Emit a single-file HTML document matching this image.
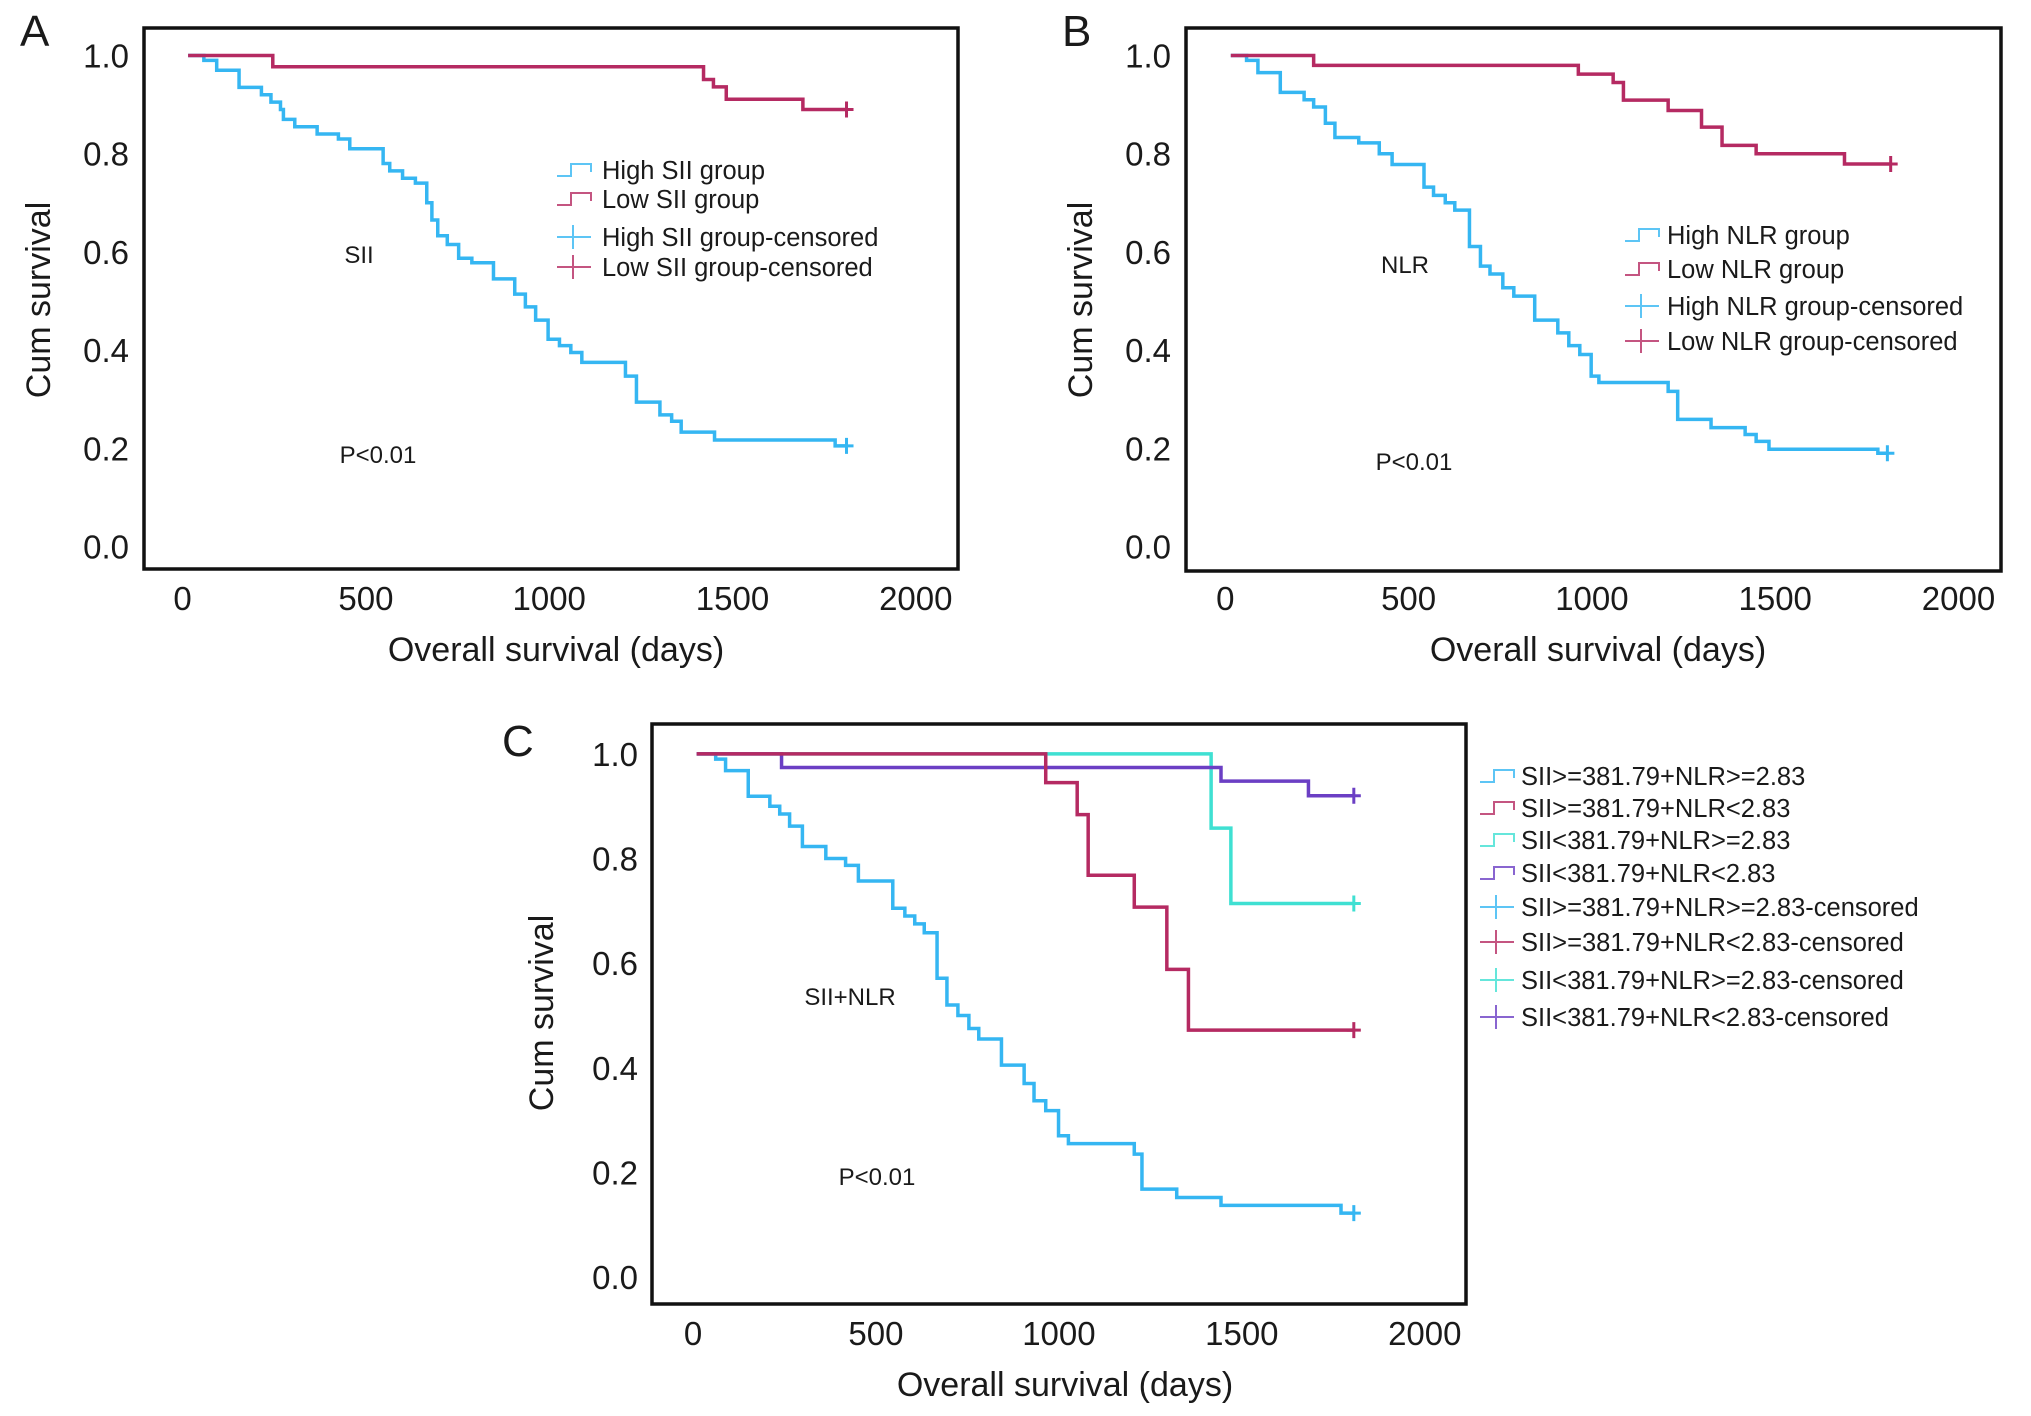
<!DOCTYPE html>
<html><head><meta charset="utf-8"><style>
html,body{margin:0;padding:0;background:#fff}
svg{display:block}
text{font-family:"Liberation Sans",Arial,sans-serif;fill:#1a1a1a}
</style></head><body>
<svg id="fig" width="2031" height="1416" viewBox="0 0 2031 1416" xmlns="http://www.w3.org/2000/svg"></svg>
<script>
// ---- Data (days, cumulative survival) ----
const xTicks = [0, 500, 1000, 1500, 2000];
const yTicks = [0.0, 0.2, 0.4, 0.6, 0.8, 1.0];

const aHighDays = [15, 58, 93, 154, 215, 241, 267, 275, 306, 367, 425, 456, 547, 565, 600, 635, 666, 680, 696, 722, 753, 789, 848, 906, 935, 963, 997, 1028, 1059, 1089, 1208, 1238, 1302, 1334, 1360, 1451, 1780];
const aHighSurv = [1.0, 0.99, 0.97, 0.935, 0.92, 0.905, 0.89, 0.87, 0.855, 0.84, 0.83, 0.81, 0.78, 0.765, 0.75, 0.74, 0.70, 0.665, 0.633, 0.615, 0.587, 0.578, 0.545, 0.514, 0.488, 0.461, 0.422, 0.409, 0.395, 0.375, 0.347, 0.294, 0.268, 0.255, 0.233, 0.217, 0.205];
const aHighCens = 1811;
const aLowDays = [15, 246, 1421, 1448, 1483, 1692];
const aLowSurv = [1.0, 0.977, 0.951, 0.936, 0.911, 0.89];
const aLowCens = 1811;

const bHighDays = [15, 58, 89, 150, 215, 241, 273, 299, 364, 420, 455, 542, 568, 600, 626, 666, 696, 722, 757, 787, 844, 907, 937, 967, 998, 1019, 1208, 1234, 1325, 1418, 1448, 1483, 1780];
const bHighSurv = [1.0, 0.99, 0.965, 0.925, 0.91, 0.895, 0.862, 0.833, 0.822, 0.80, 0.778, 0.732, 0.715, 0.70, 0.685, 0.611, 0.571, 0.555, 0.527, 0.51, 0.461, 0.435, 0.409, 0.391, 0.347, 0.334, 0.316, 0.259, 0.242, 0.228, 0.214, 0.198, 0.19];
const bHighCens = 1806;
const bLowDays = [15, 241, 963, 1058, 1086, 1208, 1299, 1355, 1448, 1689];
const bLowSurv = [1.0, 0.98, 0.962, 0.945, 0.909, 0.888, 0.854, 0.817, 0.80, 0.779];
const bLowCens = 1815;

const cHHDays = [10, 62, 89, 151, 210, 237, 264, 299, 363, 417, 452, 546, 579, 606, 632, 667, 694, 724, 754, 781, 843, 905, 932, 964, 999, 1026, 1206, 1227, 1322, 1443, 1771];
const cHHSurv = [1.0, 0.99, 0.968, 0.919, 0.90, 0.885, 0.862, 0.823, 0.80, 0.787, 0.757, 0.705, 0.69, 0.675, 0.658, 0.571, 0.52, 0.50, 0.475, 0.455, 0.405, 0.37, 0.337, 0.318, 0.27, 0.255, 0.235, 0.168, 0.152, 0.137, 0.122];
const cHHCens = 1806;
const cHLDays = [10, 964, 1050, 1080, 1206, 1295, 1354];
const cHLSurv = [1.0, 0.945, 0.884, 0.768, 0.707, 0.588, 0.472];
const cHLCens = 1806;
const cLHDays = [10, 1416, 1470];
const cLHSurv = [1.0, 0.858, 0.714];
const cLHCens = 1806;
const cLLDays = [10, 242, 1443, 1682];
const cLLSurv = [1.0, 0.974, 0.948, 0.92];
const cLLCens = 1806;

const BLUE = "#35b6f2", RED = "#b52a62", TURQ = "#3fe0d2", PURP = "#6b3fc4";
const NS = "http://www.w3.org/2000/svg";
const svg = document.getElementById("fig");

function mk(tag, attrs, parent, txt) {
  const e = document.createElementNS(NS, tag);
  for (const k in attrs) e.setAttribute(k, attrs[k]);
  if (txt !== undefined) e.textContent = txt;
  (parent || svg).appendChild(e);
  return e;
}

function panel(cfg) {
  const g = mk("g", {});
  
  
  const X = d => cfg.x0 + (d / 2000) * (cfg.x2000 - cfg.x0);
  const Y = s => cfg.y0 - s * (cfg.y0 - cfg.y1);
  const fr = mk("rect", {x: cfg.bx, y: cfg.by, width: cfg.bw, height: cfg.bh, fill: "none", stroke: "#111", "stroke-width": 3.5}, g);
  
  
  const L = mk("text", {x: cfg.lx, y: cfg.ly, "font-size": 44}, g, cfg.letter);
  
  
  xTicks.forEach(t => {
    const e = mk("text", {x: X(t), y: cfg.xtY, "font-size": 33, "text-anchor": "middle"}, g, String(t));
    
    
  });
  yTicks.forEach(t => {
    const e = mk("text", {x: cfg.ytX, y: Y(t) + 12, "font-size": 33, "text-anchor": "end"}, g, t.toFixed(1));
    
    
  });
  const xt = mk("text", {x: cfg.xtitle[0], y: cfg.xtitle[1], "font-size": 34, "text-anchor": "middle"}, g, "Overall survival (days)");
  
  
  const yt = mk("text", {x: 0, y: 0, "font-size": 34, "text-anchor": "middle", transform: `translate(${cfg.ytitle[0]},${cfg.ytitle[1]}) rotate(-90)`}, g, "Cum survival");
  
  
  cfg.notes.forEach(n => {
    const e = mk("text", {x: n[0], y: n[1], "font-size": 24, "text-anchor": "middle"}, g, n[2]);
    
    
  });
  cfg.series.forEach(s => {
    let d = `M${X(s.days[0])},${Y(s.surv[0])}`;
    for (let i = 1; i < s.days.length; i++) {
      d += ` H${X(s.days[i])} V${Y(s.surv[i])}`;
    }
    const last = s.surv[s.surv.length - 1];
    d += ` H${X(s.cens)}`;
    const p = mk("path", {d: d, fill: "none", stroke: s.color, "stroke-width": 3.5}, g);
    
    
    const cx = X(s.cens), cy = Y(last);
    const c = mk("path", {d: `M${cx - 7},${cy} H${cx + 7} M${cx},${cy - 8} V${cy + 8}`, stroke: s.color, "stroke-width": 3, fill: "none"}, g);
    
    
  });
  cfg.legend.forEach((it, i) => {
    const y = cfg.legY[i];
    const lg = mk("g", {}, g);
    
    
    const ix = cfg.legIx;
    if (it[2] === "step") {
      mk("path", {d: `M${ix},${y + 6} H${ix + 14} V${y - 6} H${ix + 34} V${y + 2}`, fill: "none", stroke: it[1], "stroke-width": 2, opacity: 0.8}, lg);
    } else {
      mk("path", {d: `M${ix},${y} H${ix + 34} M${ix + 16},${y - 12} V${y + 12}`, fill: "none", stroke: it[1], "stroke-width": 2, opacity: 0.8}, lg);
    }
    mk("text", {x: cfg.legTx, y: y + 9, "font-size": cfg.legFs}, lg, it[0]);
  });
}

panel({
  id: "sii", letter: "A", lx: 20, ly: 46,
  bx: 144, by: 28, bw: 814, bh: 541,
  x0: 182.6, x2000: 915.8, y1: 55.5, y0: 546.5,
  xtY: 610, ytX: 129, xtitle: [556, 661], ytitle: [50, 300],
  notes: [[359, 263, "SII", "group-label"], [378, 463, "P<0.01", "p-value-label"]],
  series: [
    {name: "high-sii", days: aHighDays, surv: aHighSurv, cens: aHighCens, color: BLUE},
    {name: "low-sii", days: aLowDays, surv: aLowSurv, cens: aLowCens, color: RED}
  ],
  legIx: 557, legTx: 602, legFs: 25.5, legY: [170, 199, 237, 267],
  legend: [["High SII group", BLUE, "step"], ["Low SII group", RED, "step"], ["High SII group-censored", BLUE, "cens"], ["Low SII group-censored", RED, "cens"]]
});

panel({
  id: "nlr", letter: "B", lx: 1062, ly: 46,
  bx: 1186, by: 28, bw: 815, bh: 543,
  x0: 1225.3, x2000: 1958.5, y1: 55.5, y0: 546.5,
  xtY: 610, ytX: 1171, xtitle: [1598, 661], ytitle: [1092, 300],
  notes: [[1405, 273, "NLR", "group-label"], [1414, 470, "P<0.01", "p-value-label"]],
  series: [
    {name: "high-nlr", days: bHighDays, surv: bHighSurv, cens: bHighCens, color: BLUE},
    {name: "low-nlr", days: bLowDays, surv: bLowSurv, cens: bLowCens, color: RED}
  ],
  legIx: 1625, legTx: 1667, legFs: 25.5, legY: [235, 269, 306, 341],
  legend: [["High NLR group", BLUE, "step"], ["Low NLR group", RED, "step"], ["High NLR group-censored", BLUE, "cens"], ["Low NLR group-censored", RED, "cens"]]
});

panel({
  id: "sii-nlr", letter: "C", lx: 502, ly: 756,
  bx: 652, by: 724, bw: 814, bh: 580,
  x0: 693, x2000: 1424.8, y1: 753.9, y0: 1277,
  xtY: 1345, ytX: 638, xtitle: [1065, 1396], ytitle: [553, 1013],
  notes: [[850, 1005, "SII+NLR", "group-label"], [877, 1185, "P<0.01", "p-value-label"]],
  series: [
    {name: "sii-high-nlr-high", days: cHHDays, surv: cHHSurv, cens: cHHCens, color: BLUE},
    {name: "sii-low-nlr-high", days: cLHDays, surv: cLHSurv, cens: cLHCens, color: TURQ},
    {name: "sii-low-nlr-low", days: cLLDays, surv: cLLSurv, cens: cLLCens, color: PURP},
    {name: "sii-high-nlr-low", days: cHLDays, surv: cHLSurv, cens: cHLCens, color: RED}
  ],
  legIx: 1480, legTx: 1521, legFs: 25.5, legY: [776, 808, 840, 873, 907, 942, 980, 1017],
  legend: [["SII>=381.79+NLR>=2.83", BLUE, "step"], ["SII>=381.79+NLR<2.83", RED, "step"], ["SII<381.79+NLR>=2.83", TURQ, "step"], ["SII<381.79+NLR<2.83", PURP, "step"],
           ["SII>=381.79+NLR>=2.83-censored", BLUE, "cens"], ["SII>=381.79+NLR<2.83-censored", RED, "cens"], ["SII<381.79+NLR>=2.83-censored", TURQ, "cens"], ["SII<381.79+NLR<2.83-censored", PURP, "cens"]]
});
</script>
</body></html>
